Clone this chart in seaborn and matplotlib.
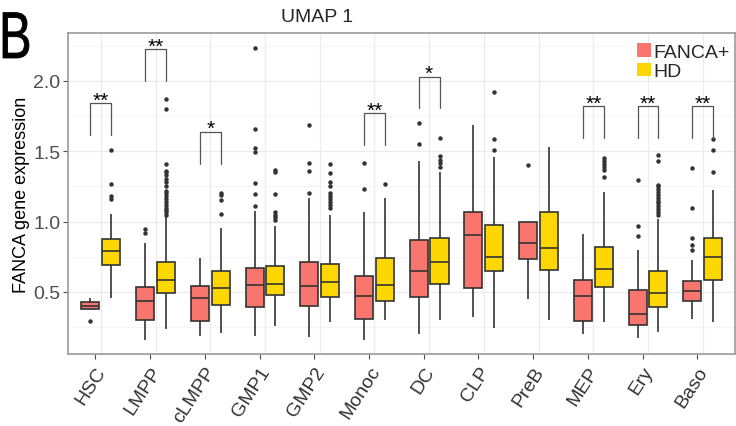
import numpy as np
import pandas as pd
import matplotlib
matplotlib.use("Agg")
import matplotlib.pyplot as plt
import matplotlib.transforms as mtransforms
import seaborn as sns
from matplotlib.patches import Patch, PathPatch
from matplotlib.textpath import TextPath
from matplotlib.font_manager import FontProperties

CATEGORIES = ["HSC", "LMPP", "cLMPP", "GMP1", "GMP2", "Monoc",
              "DC", "CLP", "PreB", "MEP", "Ery", "Baso"]
GROUPS = ["FANCA+", "HD"]
PALETTE = {"FANCA+": "#F8766D", "HD": "#FFD700"}

# box statistics (whisker low, Q1, median, Q3, whisker high)
fanca_lo = [0.375, 0.16, 0.19, 0.19, 0.18, 0.16, 0.20, 0.32, 0.45, 0.20, 0.17, 0.31]
fanca_q1 = [0.379, 0.304, 0.293, 0.394, 0.399, 0.309, 0.462, 0.526, 0.736, 0.297, 0.264, 0.436]
fanca_med = [0.403, 0.436, 0.455, 0.55, 0.54, 0.474, 0.649, 0.904, 0.848, 0.474, 0.342, 0.509]
fanca_q3 = [0.431, 0.535, 0.545, 0.673, 0.71, 0.616, 0.869, 1.072, 0.996, 0.585, 0.512, 0.578]
fanca_hi = [0.455, 0.85, 0.74, 1.077, 1.17, 1.07, 1.43, 1.684, 1.0, 0.911, 0.798, 0.727]
fanca_out = [
    [0.295],
    [0.918, 0.95],
    [],
    [1.108, 1.195, 1.278, 1.495, 1.52, 1.66, 2.235],
    [1.207, 1.36, 1.42, 1.69],
    [1.235, 1.42],
    [1.55, 1.70],
    [],
    [1.40],
    [],
    [0.897, 0.97, 1.294],
    [0.80, 0.833, 0.883, 1.094, 1.382],
]

hd_lo = [0.455, 0.238, 0.209, 0.257, 0.289, 0.304, 0.304, 0.247, 0.304, 0.289, 0.214, 0.289]
hd_q1 = [0.694, 0.493, 0.408, 0.479, 0.462, 0.434, 0.559, 0.649, 0.658, 0.533, 0.396, 0.587]
hd_med = [0.793, 0.587, 0.526, 0.557, 0.571, 0.548, 0.71, 0.75, 0.815, 0.661, 0.493, 0.746]
hd_q3 = [0.876, 0.71, 0.647, 0.682, 0.699, 0.741, 0.883, 0.977, 1.065, 0.821, 0.651, 0.885]
hd_hi = [1.053, 1.03, 0.952, 0.97, 1.05, 1.167, 1.353, 1.46, 1.533, 1.214, 1.018, 1.226]
hd_out = [
    [1.16, 1.183, 1.27, 1.509],
    [1.05, 1.07, 1.08, 1.10, 1.12, 1.14, 1.16, 1.18, 1.20, 1.22, 1.25,
     1.28, 1.30, 1.33, 1.35, 1.36, 1.41, 1.80, 1.87],
    [1.053, 1.155, 1.188, 1.207],
    [1.01, 1.03, 1.05, 1.07, 1.195, 1.353, 1.365],
    [1.10, 1.12, 1.14, 1.16, 1.18, 1.20, 1.25, 1.28, 1.344, 1.413],
    [1.271],
    [1.39, 1.42, 1.44, 1.467, 1.597],
    [1.507, 1.59, 1.92],
    [],
    [1.32, 1.37, 1.39, 1.41, 1.43, 1.455],
    [1.05, 1.07, 1.09, 1.11, 1.13, 1.15, 1.17, 1.19, 1.21, 1.23, 1.25,
     1.26, 1.434, 1.474],
    [1.353, 1.51, 1.585],
]

# significance brackets
sig_cats = ["HSC", "LMPP", "cLMPP", "Monoc", "DC", "MEP", "Ery", "Baso"]
sig_labels = ["**", "**", "*", "**", "*", "**", "**", "**"]
sig_tops = [1.84, 2.225, 1.637, 1.77, 2.03, 1.82, 1.82, 1.82]


def build_frame():
    # repeat the quartile values so the drawn boxes land on the read-off stats
    k = 50
    rows = []
    stats = {
        "FANCA+": (fanca_lo, fanca_q1, fanca_med, fanca_q3, fanca_hi, fanca_out),
        "HD": (hd_lo, hd_q1, hd_med, hd_q3, hd_hi, hd_out),
    }
    for group, (lo, q1, med, q3, hi, out) in stats.items():
        for i, cat in enumerate(CATEGORIES):
            vals = [lo[i]] + [q1[i]] * k + [med[i]] * k + [q3[i]] * k + [hi[i]] + out[i]
            rows += [(cat, group, v) for v in vals]
    return pd.DataFrame(rows, columns=["cell", "group", "expr"])


df = build_frame()

sns.set_style("white")
plt.rcParams["font.family"] = ["Liberation Sans", "DejaVu Sans"]

fig = plt.figure(figsize=(7.36, 4.27), dpi=100)
ax = fig.add_axes([0.0924, 0.1686, 0.9062, 0.7518])

sns.boxplot(data=df, x="cell", y="expr", hue="group", order=CATEGORIES,
            hue_order=GROUPS, palette=PALETTE, saturation=1, width=0.76, gap=0.13,
            linecolor="#333333", linewidth=1.2, showcaps=False,
            flierprops=dict(marker="o", markersize=2.2, markerfacecolor="#333333",
                            markeredgecolor="#333333"),
            legend=False, ax=ax)

ax.set_xlim(-0.6, 11.59)
ax.set_ylim(0.059, 2.341)

# grid lines sit on the category centres, tick marks slightly to the left
ax.set_xticks(np.arange(len(CATEGORIES)), minor=True)
ax.set_xticks(np.arange(len(CATEGORIES)) - 0.1)
ax.set_xticklabels(CATEGORIES, rotation=57, ha="right", va="top",
                   rotation_mode="anchor", fontsize=14, color="#333333")
shift = mtransforms.ScaledTranslation(-11 / 100, 0, fig.dpi_scale_trans)
for lab in ax.get_xticklabels():
    lab.set_transform(lab.get_transform() + shift)
ax.set_yticks([0.5, 1.0, 1.5, 2.0])
ax.set_yticklabels(["0.5", "1.0", "1.5", "2.0"], fontsize=14, color="#4D4D4D")
ax.set_yticks([0.25, 0.75, 1.25, 1.75, 2.25], minor=True)
ax.grid(False)
ax.grid(which="minor", axis="x", color="#EBEBEB", linewidth=0.9)
ax.grid(which="major", axis="y", color="#EBEBEB", linewidth=0.9)
ax.grid(which="minor", axis="y", color="#F2F2F2", linewidth=0.5)
ax.set_axisbelow(True)
ax.tick_params(which="major", length=3.5, width=0.8, color="#4D4D4D", pad=2,
               bottom=True, left=True)
ax.tick_params(axis="x", which="major", pad=3)
ax.tick_params(which="minor", length=0)
for side in ax.spines.values():
    side.set_color("#999999")
    side.set_linewidth(1.2)

ax.set_xlabel("")
ax.set_ylabel("FANCA gene expression", fontsize=13, color="black", labelpad=2)

# significance brackets
for cat, lab, top in zip(sig_cats, sig_labels, sig_tops):
    i = CATEGORIES.index(cat)
    x1, x2 = i - 0.19, i + 0.19
    ax.plot([x1, x1, x2, x2], [top - 0.225, top, top, top - 0.225],
            color="#555555", linewidth=0.9, zorder=3)
    ax.text(i, top - 0.015, lab, ha="center", va="baseline", fontsize=15, color="black")

handles = [Patch(facecolor=PALETTE[g], edgecolor="none", label=g) for g in GROUPS]
ax.legend(handles=handles, loc="upper left", bbox_to_anchor=(0.853, 0.968),
          frameon=False, fontsize=14, handlelength=0.7, handleheight=0.7,
          handletextpad=0.15, labelspacing=0.1, borderpad=0, borderaxespad=0)

fig.text(317 / 736, 1 - 22 / 427, "UMAP 1", ha="center", va="baseline", fontsize=14)

# panel letter: a narrow "B"
bpath = TextPath((0, 0), "B", size=66, prop=FontProperties(family="Liberation Sans"))
btrans = mtransforms.Affine2D().scale(0.74, 1.0).translate(-1, 427 - 59)
fig.add_artist(PathPatch(bpath, transform=btrans, facecolor="black",
                         edgecolor="black", linewidth=0.6))

fig.savefig("out.png", dpi=100)
